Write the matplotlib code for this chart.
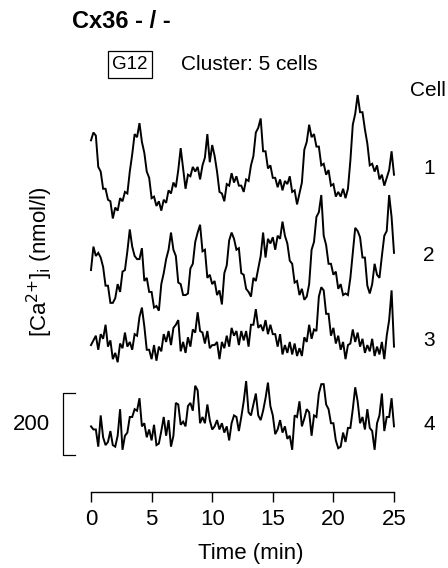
import numpy as np
import matplotlib
matplotlib.use("Agg")
import matplotlib.pyplot as plt

plt.rcParams['font.family'] = ['Liberation Sans', 'DejaVu Sans']

# sampling grid of the recording (min)
time_min = np.round(np.arange(0, 25.01, 0.2), 1)

# [Ca2+]i in nmol/l above each trace's own baseline
cell1 = [255, 280, 270, 170, 155, 100, 100, 65, 60, 5,
         40, 30, 70, 60, 90, 85, 155, 210, 275, 265,
         310, 250, 215, 155, 135, 70, 75, 45, 60, 30,
         65, 55, 95, 85, 120, 105, 160, 230, 165, 100,
         145, 140, 170, 155, 170, 130, 175, 200, 275, 185,
         240, 205, 155, 90, 85, 60, 115, 110, 150, 120,
         140, 110, 110, 90, 130, 125, 175, 205, 280, 295,
         325, 220, 220, 165, 175, 135, 135, 105, 130, 95,
         125, 115, 140, 90, 95, 50, 85, 120, 225, 250,
         305, 265, 275, 235, 235, 175, 180, 145, 160, 110,
         115, 75, 90, 75, 100, 70, 100, 190, 305, 340,
         400, 345, 345, 290, 245, 175, 180, 155, 175, 130,
         145, 110, 135, 160, 220, 145]
cell2 = [145, 220, 190, 200, 185, 155, 95, 95, 40, 40,
         55, 100, 75, 140, 145, 205, 275, 220, 190, 180,
         180, 215, 110, 120, 75, 75, 25, 30, 15, 100,
         135, 180, 210, 265, 210, 190, 105, 100, 65, 65,
         70, 150, 165, 235, 265, 290, 205, 210, 120, 130,
         100, 110, 65, 80, 35, 135, 160, 240, 265, 245,
         210, 215, 135, 130, 85, 75, 60, 120, 110, 150,
         190, 265, 185, 245, 230, 250, 210, 255, 245, 300,
         255, 230, 175, 165, 105, 110, 65, 85, 50, 60,
         100, 210, 235, 315, 330, 385, 255, 225, 165, 165,
         130, 140, 85, 100, 65, 70, 65, 120, 200, 280,
         270, 250, 185, 185, 95, 70, 100, 165, 130, 120,
         190, 255, 270, 385, 315, 200]
cell3 = [65, 80, 95, 50, 100, 85, 130, 60, 80, 20,
         40, 10, 70, 55, 105, 60, 75, 50, 100, 95,
         155, 185, 125, 50, 50, 20, 65, 15, 60, 45,
         100, 75, 110, 65, 120, 130, 145, 45, 75, 40,
         90, 60, 115, 105, 170, 110, 105, 70, 110, 55,
         65, 65, 75, 20, 75, 55, 95, 60, 120, 95,
         110, 65, 110, 80, 110, 60, 130, 130, 180, 120,
         130, 110, 145, 100, 130, 100, 100, 60, 100, 35,
         65, 40, 75, 35, 70, 30, 55, 30, 90, 75,
         130, 85, 115, 110, 220, 250, 240, 165, 165, 95,
         120, 70, 95, 50, 75, 20, 65, 70, 115, 75,
         105, 60, 85, 40, 65, 45, 85, 30, 60, 35,
         75, 20, 95, 145, 240, 60]
cell4 = [110, 100, 100, 45, 145, 75, 50, 60, 95, 50,
         45, 80, 165, 35, 80, 90, 140, 140, 165, 160,
         200, 110, 120, 75, 100, 65, 115, 50, 55, 95,
         140, 80, 130, 45, 80, 185, 180, 115, 125, 110,
         175, 185, 160, 240, 225, 120, 140, 120, 180, 130,
         100, 110, 130, 100, 120, 90, 110, 65, 120, 145,
         140, 95, 140, 190, 255, 155, 145, 180, 215, 145,
         130, 160, 200, 250, 175, 145, 85, 100, 130, 90,
         110, 70, 80, 35, 145, 140, 190, 110, 135, 165,
         155, 80, 145, 140, 215, 245, 245, 180, 165, 120,
         120, 65, 40, 45, 90, 60, 105, 105, 165, 235,
         190, 120, 140, 100, 165, 105, 95, 35, 120, 145,
         215, 95, 140, 140, 200, 110]

traces = [cell1, cell2, cell3, cell4]
cell_names = ['1', '2', '3', '4']
offsets = [870, 565, 405, 100]
label_y = [1035, 755, 485, 215]

fig = plt.figure(figsize=(4.48, 5.68), dpi=100)
ax = fig.add_axes([91 / 448, 76 / 568, 303 / 448, 412 / 568])

for vals, off in zip(traces, offsets):
    ax.plot(time_min, np.array(vals) + off, color='black', lw=1.4,
            solid_joinstyle='miter', clip_on=False)

ax.set_xlim(0, 25)
ax.set_ylim(0, 1318)
for s in ['left', 'right', 'top']:
    ax.spines[s].set_visible(False)
ax.spines['bottom'].set_linewidth(1.0)
ax.set_yticks([])
ax.set_xticks([0, 5, 10, 15, 20, 25])
ax.tick_params(axis='x', direction='out', length=7, width=1.0, labelsize=16, pad=5)

# cell numbers on the right
for name, y in zip(cell_names, label_y):
    ax.text(27.9, y, name, fontsize=15, ha='center', va='center', clip_on=False)

# scale bar 200 nmol/l
bar_top = 317
ax.plot([-1.3, -2.3, -2.3, -1.3], [bar_top, bar_top, bar_top - 200, bar_top - 200],
        color='black', lw=0.9, clip_on=False)
ax.text(-4.95, bar_top - 100, '200', fontsize=16, ha='center', va='center')

fig.text(72 / 448, 1 - 22 / 568, 'Cx36 - / -', fontsize=17, fontweight='bold',
         ha='left', va='center')
fig.text(130 / 448, 1 - 64.5 / 568, 'G12', fontsize=13.5, ha='center', va='center',
         bbox=dict(boxstyle='square,pad=0.25', fc='none', ec='black', lw=0.9))
fig.text(181 / 448, 1 - 64 / 568, 'Cluster: 5 cells', fontsize=15, ha='left', va='center')
fig.text(410 / 448, 1 - 90 / 568, 'Cell', fontsize=15, ha='left', va='center')
fig.text(40 / 448, 1 - 262 / 568, '[Ca$^{2{+}}$]$_{\\rm i}$ (nmol/l)', fontsize=16,
         rotation=90, ha='center', va='center')
fig.text(251 / 448, 1 - 553 / 568, 'Time (min)', fontsize=16, ha='center', va='center')

fig.savefig('out.png', dpi=100)
